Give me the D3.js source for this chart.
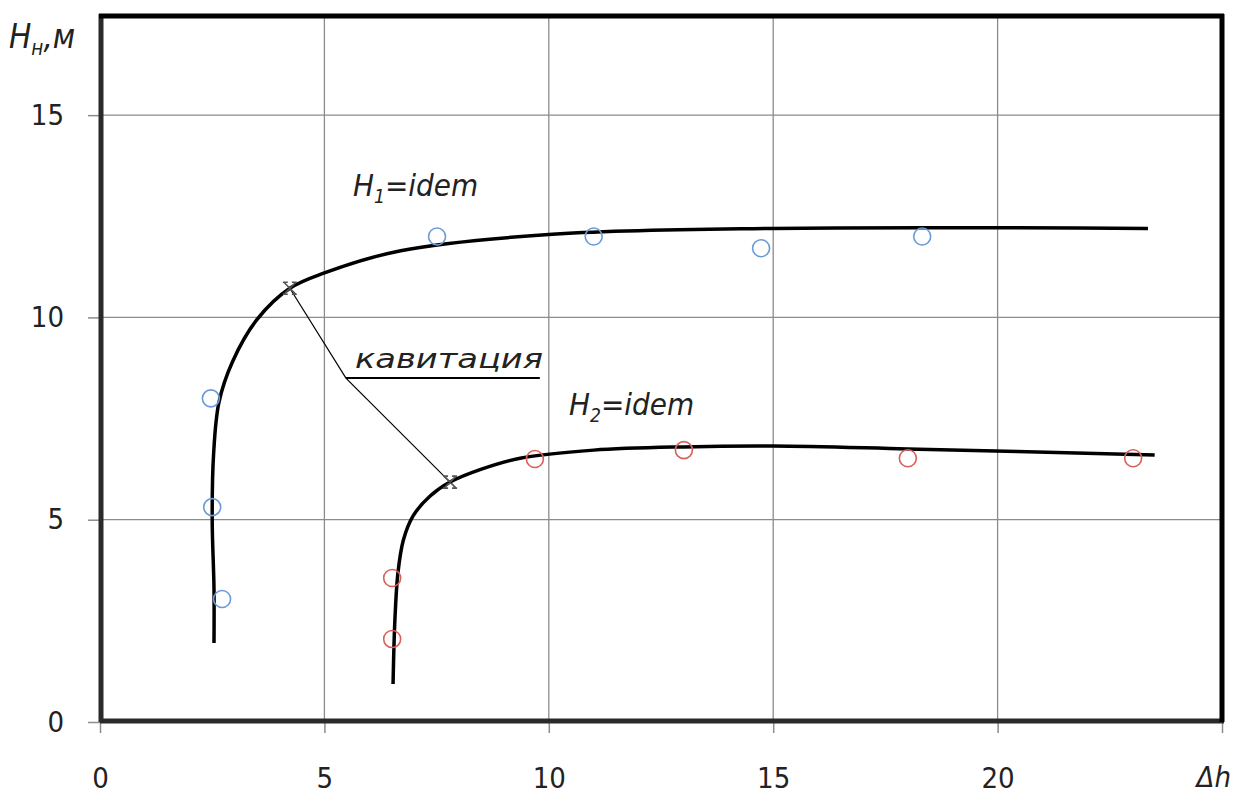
<!DOCTYPE html>
<html><head><meta charset="utf-8">
<script src="https://cdn.jsdelivr.net/npm/d3@7/dist/d3.min.js"></script>
<style>
body{margin:0;background:#fff;}
svg text{font-family:"DejaVu Sans Condensed","DejaVu Sans",sans-serif;fill:#222;}
</style></head>
<body>
<svg id="chart" width="1240" height="797"></svg>
<script>
// ---- data ----
const xTicks = [0, 5, 10, 15, 20];
const yTicks = [0, 5, 10, 15];
// measured points
const h1PointsX = [2.47, 2.50, 2.72, 7.51, 11.0, 14.73, 18.32];
const h1PointsY = [8.0, 5.31, 3.04, 12.0, 12.0, 11.71, 12.0];
const h2PointsX = [6.51, 6.51, 9.69, 13.01, 18.0, 23.02];
const h2PointsY = [3.56, 2.05, 6.5, 6.72, 6.52, 6.52];
// smoothed curves
const h1CurveX = [2.54, 2.54, 2.50, 2.53, 2.65, 2.95, 3.5, 4.23, 5.0, 6.7, 10.0, 15.0, 23.35];
const h1CurveY = [1.95, 3.3, 5.0, 6.6, 7.9, 8.9, 9.95, 10.72, 11.1, 11.65, 12.05, 12.2, 12.2];
const h2CurveX = [6.53, 6.57, 6.64, 6.76, 6.98, 7.35, 7.8, 8.5, 9.36, 11.0, 13.0, 15.0, 18.0, 23.5];
const h2CurveY = [0.94, 2.5, 3.7, 4.5, 5.1, 5.58, 5.93, 6.25, 6.52, 6.72, 6.8, 6.82, 6.75, 6.6];
// cavitation boundary (leader line)
const cavX = [4.23, 5.48, 7.8];
const cavY = [10.72, 8.5, 5.93];
const cavUnderlineX = [5.48, 9.8];
const cavUnderlineY = [8.5, 8.5];

// ---- layout ----
const svg = d3.select("#chart");
const L = 100, R = 1222, T = 14, B = 722;
const x = d3.scaleLinear().domain([0, 25]).range([L, R]);
const y = d3.scaleLinear().domain([0, 17.5]).range([B, T]);

// grid
svg.append("g").selectAll("line").data(xTicks.filter(d => d > 0)).join("line")
  .attr("x1", d => x(d)).attr("x2", d => x(d)).attr("y1", T).attr("y2", B)
  .attr("stroke", "#8c8c8c").attr("stroke-width", 1.3);
svg.append("g").selectAll("line").data(yTicks.filter(d => d > 0)).join("line")
  .attr("y1", d => y(d)).attr("y2", d => y(d)).attr("x1", L).attr("x2", R)
  .attr("stroke", "#8c8c8c").attr("stroke-width", 1.3);

// axes
const yAxis = d3.axisLeft(y).tickValues(yTicks).tickSize(12).tickPadding(24).tickFormat(d3.format("d"));
const xAxis = d3.axisBottom(x).tickValues(xTicks.concat([25])).tickSize(11).tickPadding(34)
  .tickFormat(d => d === 25 ? "" : d);
const gy = svg.append("g").attr("transform", `translate(${L},0)`).call(yAxis);
const gx = svg.append("g").attr("transform", `translate(0,${B})`).call(xAxis);
[gy, gx].forEach(g => {
  g.select(".domain").remove();
  g.selectAll(".tick line").attr("stroke", "#8c8c8c").attr("stroke-width", 1.5);
  g.selectAll(".tick text").attr("font-size", 29).attr("fill", "#222")
    .style("font-family", '"DejaVu Sans Condensed","DejaVu Sans",sans-serif');
});

// frame
svg.append("line").attr("x1", L + 1).attr("x2", L + 1).attr("y1", T).attr("y2", B).attr("stroke", "#2a2a2a").attr("stroke-width", 5);
svg.append("line").attr("x1", L).attr("x2", R + 2).attr("y1", B - 1).attr("y2", B - 1).attr("stroke", "#2a2a2a").attr("stroke-width", 5);
svg.append("line").attr("x1", L - 1).attr("x2", R + 2).attr("y1", T + 2).attr("y2", T + 2).attr("stroke", "#000").attr("stroke-width", 5);
svg.append("line").attr("x1", R).attr("x2", R).attr("y1", T).attr("y2", B).attr("stroke", "#000").attr("stroke-width", 5);

// curves
const line = d3.line().x(d => x(d[0])).y(d => y(d[1])).curve(d3.curveCatmullRom.alpha(0.5));
svg.append("path").datum(d3.zip(h1CurveX, h1CurveY)).attr("d", line)
  .attr("fill", "none").attr("stroke", "#000").attr("stroke-width", 3.5);
svg.append("path").datum(d3.zip(h2CurveX, h2CurveY)).attr("d", line)
  .attr("fill", "none").attr("stroke", "#000").attr("stroke-width", 3.5);

// cavitation leader
const straight = d3.line().x(d => x(d[0])).y(d => y(d[1]));
svg.append("path").datum(d3.zip(cavX, cavY)).attr("d", straight)
  .attr("fill", "none").attr("stroke", "#000").attr("stroke-width", 1.2);
svg.append("path").datum(d3.zip(cavUnderlineX, cavUnderlineY)).attr("d", straight)
  .attr("fill", "none").attr("stroke", "#000").attr("stroke-width", 2);

// cross markers at the cavitation points
[[cavX[0], cavY[0]], [cavX[2], cavY[2]]].forEach(p => {
  const cx = x(p[0]), cy = y(p[1]), s = 6;
  svg.append("path")
    .attr("d", `M${cx - s},${cy - s}L${cx + s},${cy + s}M${cx + s},${cy - s}L${cx - s},${cy + s}M${cx - s - 1},${cy - s}H${cx - s + 4}M${cx + s - 4},${cy - s}H${cx + s + 1}M${cx - s - 1},${cy + s}H${cx - s + 4}M${cx + s - 4},${cy + s}H${cx + s + 1}`)
    .attr("stroke", "#555").attr("stroke-width", 1.6).attr("fill", "none");
});

// points
svg.append("g").selectAll("circle").data(d3.zip(h1PointsX, h1PointsY)).join("circle")
  .attr("cx", d => x(d[0])).attr("cy", d => y(d[1])).attr("r", 8.5)
  .attr("fill", "none").attr("stroke", "#6b9bd6").attr("stroke-width", 1.6);
svg.append("g").selectAll("circle").data(d3.zip(h2PointsX, h2PointsY)).join("circle")
  .attr("cx", d => x(d[0])).attr("cy", d => y(d[1])).attr("r", 8.5)
  .attr("fill", "none").attr("stroke", "#d9605a").attr("stroke-width", 1.6);

// labels
function subLabel(px, py, main, sub, rest, size) {
  const t = svg.append("text").attr("x", px).attr("y", py).attr("font-size", size).attr("font-style", "italic");
  t.append("tspan").text(main);
  t.append("tspan").attr("font-size", size * 0.62).attr("dy", size * 0.22).text(sub);
  t.append("tspan").attr("dy", -size * 0.22).text(rest);
  return t;
}
subLabel(353, 196, "H", "1", "=idem", 31);
subLabel(569, 415, "H", "2", "=idem", 31);
subLabel(9, 48, "H", "н", ",м", 33);
svg.append("text").attr("x", 355).attr("y", 368).attr("font-size", 27).attr("font-style", "italic")
  .attr("textLength", 188).attr("lengthAdjust", "spacingAndGlyphs").text("кавитация");
svg.append("text").attr("x", 1231).attr("y", 787).attr("text-anchor", "end")
  .attr("font-size", 29).attr("font-style", "italic").text("Δh");
</script>
</body></html>
